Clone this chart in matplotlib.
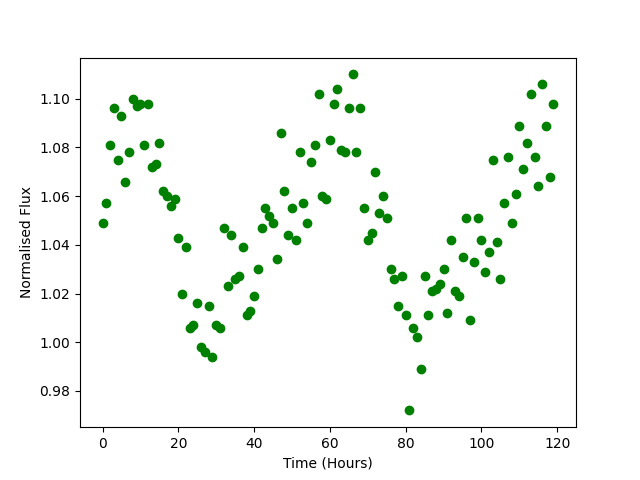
import numpy as np
import matplotlib
matplotlib.use("Agg")
import matplotlib.pyplot as plt

# time in hours, one reading per hour
time_hours = np.arange(120)

flux = [
    1.049, 1.057, 1.081, 1.096, 1.075, 1.093, 1.066, 1.078, 1.100, 1.097,
    1.098, 1.081, 1.098, 1.072, 1.073, 1.082, 1.062, 1.060, 1.056, 1.059,
    1.043, 1.020, 1.039, 1.006, 1.007, 1.016, 0.998, 0.996, 1.015, 0.994,
    1.007, 1.006, 1.047, 1.023, 1.044, 1.026, 1.027, 1.039, 1.011, 1.013,
    1.019, 1.030, 1.047, 1.055, 1.052, 1.049, 1.034, 1.086, 1.062, 1.044,
    1.055, 1.042, 1.078, 1.057, 1.049, 1.074, 1.081, 1.102, 1.060, 1.059,
    1.083, 1.098, 1.104, 1.079, 1.078, 1.096, 1.110, 1.078, 1.096, 1.055,
    1.042, 1.045, 1.070, 1.053, 1.060, 1.051, 1.030, 1.026, 1.015, 1.027,
    1.011, 0.972, 1.006, 1.002, 0.989, 1.027, 1.011, 1.021, 1.022, 1.024,
    1.030, 1.012, 1.042, 1.021, 1.019, 1.035, 1.051, 1.009, 1.033, 1.051,
    1.042, 1.029, 1.037, 1.075, 1.041, 1.026, 1.057, 1.076, 1.049, 1.061,
    1.089, 1.071, 1.082, 1.102, 1.076, 1.064, 1.106, 1.089, 1.068, 1.098,
]

fig, ax = plt.subplots(figsize=(6.4, 4.8), dpi=100)
ax.plot(time_hours, flux, 'o', color='green')
ax.set_xlabel("Time (Hours)")
ax.set_ylabel("Normalised Flux")
fig.savefig("out.png")
